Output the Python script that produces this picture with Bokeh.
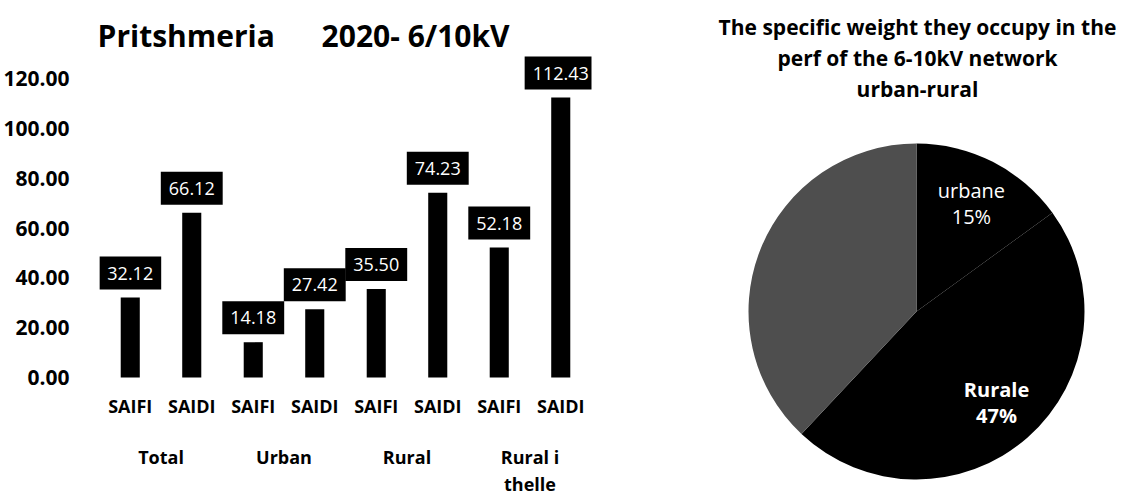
import math
from bokeh.plotting import figure
from bokeh.models import (FactorRange, Range1d, ColumnDataSource, Label,
                          FixedTicker, NumeralTickFormatter)
from bokeh.layouts import row
from bokeh.embed import file_html
from bokeh.resources import INLINE
from bokeh.core.properties import value

# ---------------- data ----------------
groups = ["Total", "Urban", "Rural", "Rural i\nthelle"]
indices = ["SAIFI", "SAIDI"]
saifi = [32.12, 14.18, 35.50, 52.18]
saidi = [66.12, 27.42, 74.23, 112.43]
y_ticks = [0, 20, 40, 60, 80, 100, 120]

pie_names = ["urbane", "Rurale", "Rural i thelle"]
pie_shares = [15, 47, 38]
pie_colors = ["black", "black", "#4e4e4e"]

FONT = "Open Sans"

# ---------------- bar chart ----------------
factors = []
vals = []
for g, a, b in zip(groups, saifi, saidi):
    factors += [(g, indices[0]), (g, indices[1])]
    vals += [a, b]

src = ColumnDataSource(dict(x=factors, top=vals, label=[f"{v:.2f}" for v in vals],
                            sub=[f[1] for f in factors]))

PX = 2.49      # pixels per unit (layout only)
BASE = 377     # pixel row of the zero line
H = 496
p1 = figure(x_range=FactorRange(*factors, factor_padding=0, group_padding=0, range_padding=0),
            y_range=Range1d(-(H - BASE) / PX, BASE / PX),
            frame_width=492, frame_height=H,
            min_border_left=96, min_border_right=20, min_border_top=0, min_border_bottom=0,
            x_axis_location=None,
            output_backend="svg", toolbar_location=None)
p1.vbar(x="x", top="top", width=0.31, source=src, fill_color="black", line_color=None)

p1.text(x="x", y="top", text="label", source=src, y_offset=-8,
        text_align="center", text_baseline="bottom",
        text_color="white", text_font=value(FONT), text_font_size="18px",
        background_fill_color="black",
        padding=dict(left=8, right=8, top=10, bottom=10))

# category labels (sub level and group level)
p1.text(x="x", y=-28 / PX, text="sub", source=src,
        text_align="center", text_baseline="middle", text_color="black",
        text_font=value(FONT), text_font_style="bold", text_font_size="18px")
p1.text(x=groups, y=[-67 / PX] * len(groups), text=groups,
        text_align="center", text_baseline="top", text_color="black",
        text_font=value(FONT), text_font_style="bold", text_font_size="18px",
        text_line_height=1.15)

p1.xgrid.grid_line_color = None
p1.ygrid.grid_line_color = None
p1.outline_line_color = None

ya = p1.yaxis[0]
ya.ticker = FixedTicker(ticks=y_ticks)
ya.formatter = NumeralTickFormatter(format="0.00")
ya.axis_line_color = None
ya.major_tick_line_color = None
ya.minor_tick_line_color = None
ya.major_label_standoff = 24
ya.major_label_text_font = FONT
ya.major_label_text_font_style = "bold"
ya.major_label_text_font_size = "21px"
ya.major_label_text_color = "black"

for txt, xx in [("Pritshmeria", 1.41), ("2020- 6/10kV", 5.14)]:
    p1.add_layout(Label(x=xx, y=(BASE - 35) / PX, text=txt, text_align="center",
                        text_baseline="alphabetic",
                        text_font=FONT, text_font_style="bold", text_font_size="30px",
                        text_color="black"))

# ---------------- pie chart ----------------
R = 168
starts, ends = [], []
cum = 0
for s in pie_shares:
    starts.append(math.radians(90 - cum * 3.6))
    cum += s
    ends.append(math.radians(90 - cum * 3.6))

p2 = figure(frame_width=519, frame_height=H, x_range=Range1d(-305, 214), y_range=Range1d(311 - H, 311),
            min_border=0, output_backend="svg", toolbar_location=None,
            x_axis_location=None, y_axis_location=None)
p2.grid.grid_line_color = None
p2.outline_line_color = None
p2.wedge(x=0, y=0, radius=R, start_angle=starts, end_angle=ends, direction="clock",
         fill_color=pie_colors, line_color=None)

lab_x, lab_y, lab_t, lab_s = [], [], [], []
cum = 0
for i, (n, s) in enumerate(zip(pie_names, pie_shares)):
    mid = math.radians(90 - (cum + s / 2) * 3.6)
    cum += s
    if i < 2:
        lab_x.append(0.72 * R * math.cos(mid))
        lab_y.append(0.72 * R * math.sin(mid))
        lab_t.append(f"{n}\n{s}%")
        lab_s.append("normal" if i == 0 else "bold")
p2.text(x=lab_x, y=lab_y, text=lab_t, text_font_style=lab_s,
        text_align="center", text_baseline="middle", text_color="white",
        text_font=value(FONT), text_font_size="20px", text_line_height=0.95)

for txt, yy in [("The specific weight they occupy in the", 285),
                ("perf of the 6-10kV network", 254),
                ("urban-rural", 223)]:
    p2.add_layout(Label(x=1, y=yy, text=txt, text_align="center", text_baseline="alphabetic",
                        text_font=FONT, text_font_style="bold", text_font_size="21px",
                        text_color="black"))

layout = row(p1, p2)
open("out.html", "w").write(file_html(layout, INLINE))
